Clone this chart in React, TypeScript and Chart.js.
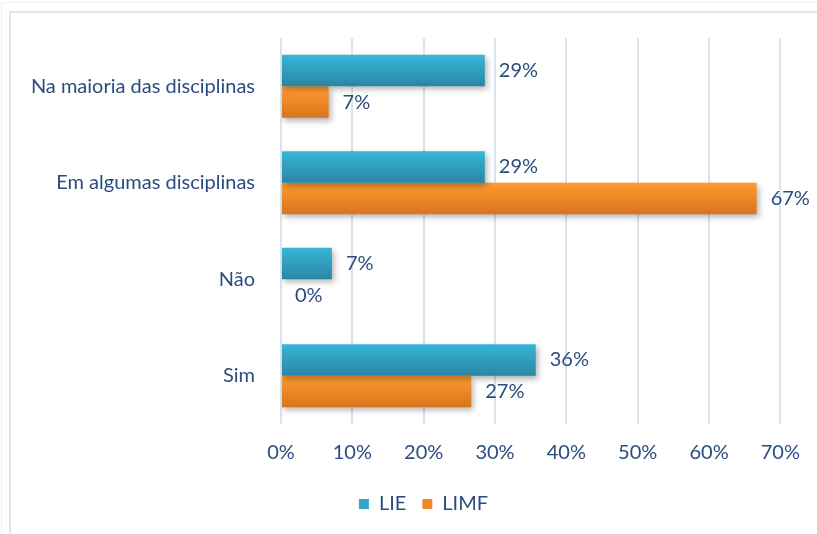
import React, { useEffect, useRef } from "react";
import { Chart, registerables } from "chart.js";

Chart.register(...registerables);

const categories = ["Na maioria das disciplinas", "Em algumas disciplinas", "Não", "Sim"];
const lieValues = [28.57, 28.57, 7.14, 35.71];
const limfValues = [6.67, 66.67, 0, 26.67];
const seriesNames = ["LIE", "LIMF"];
const tickMax = 70;
const tickStep = 10;

const TEXT = "#2B4C7E";
const FONT = "Lato, 'Open Sans', sans-serif";
const FS = 20;
const gradStops: [string, string][] = [
  ["#38B6D9", "#2A86A3"],
  ["#FF9B31", "#D8741E"],
];

const legendShiftPlugin = {
  id: "legendShift",
  afterLayout(chart: any) {
    if (chart.legend) {
      chart.legend.left += 33;
      chart.legend.right += 33;
    }
  },
};

const gradientPlugin = {
  id: "barGradient",
  beforeDatasetsDraw(chart: any) {
    const ctx = chart.ctx;
    chart.data.datasets.forEach((_: any, di: number) => {
      const meta = chart.getDatasetMeta(di);
      meta.data.forEach((el: any) => {
        const top = el.y - el.height / 2;
        const g = ctx.createLinearGradient(0, top, 0, top + el.height);
        g.addColorStop(0, gradStops[di][0]);
        g.addColorStop(1, gradStops[di][1]);
        el.options = { ...el.options, backgroundColor: g };
      });
    });
    ctx.save();
    ctx.shadowColor = "rgba(0,0,0,0.3)";
    ctx.shadowBlur = 6;
    ctx.shadowOffsetX = 2;
    ctx.shadowOffsetY = 3;
  },
  afterDatasetsDraw(chart: any) {
    const ctx = chart.ctx;
    ctx.restore();
    ctx.save();
    ctx.font = `${FS}px ${FONT}`;
    ctx.fillStyle = TEXT;
    ctx.textAlign = "left";
    ctx.textBaseline = "middle";
    chart.data.datasets.forEach((ds: any, di: number) => {
      const meta = chart.getDatasetMeta(di);
      meta.data.forEach((el: any, i: number) => {
        const v = ds.data[i];
        ctx.fillText(Math.round(v) + "%", el.x + 14, el.y);
      });
    });
    ctx.restore();
  },
};

export default function App() {
  const ref = useRef<HTMLCanvasElement | null>(null);
  useEffect(() => {
    if (!ref.current) return;
    const chart = new Chart(ref.current, {
      type: "bar",
      data: {
        labels: categories,
        datasets: [
          { label: seriesNames[0], data: lieValues, backgroundColor: "#31A6C7", borderWidth: 0 },
          { label: seriesNames[1], data: limfValues, backgroundColor: "#F08A28", borderWidth: 0 },
        ],
      },
      options: {
        indexAxis: "y",
        animation: false,
        responsive: false,
        maintainAspectRatio: false,
        layout: { padding: { left: 0, right: 36, top: 38, bottom: 10 } },
        datasets: { bar: { categoryPercentage: 0.655, barPercentage: 1 } },
        scales: {
          y: {
            type: "category",
            grid: { display: false },
            border: { display: false },
            ticks: { color: TEXT, font: { family: FONT, size: FS }, padding: 18 },
            afterFit: (s: any) => { s.width = 281; },
          },
          x: {
            min: 0,
            max: tickMax,
            grid: { color: "#DAE4F1", lineWidth: 2, drawTicks: false },
            border: { display: false },
            ticks: {
              stepSize: tickStep,
              color: TEXT,
              font: { family: FONT, size: FS },
              padding: 17,
              callback: (v: any) => v + "%",
            },
            afterFit: (s: any) => { s.height = 54; },
          },
        },
        plugins: {
          legend: {
            position: "bottom",
            labels: {
              boxWidth: 10,
              boxHeight: 10,
              padding: 16,
              color: TEXT,
              font: { family: FONT, size: FS },
            },
          },
          tooltip: { enabled: false },
        },
      },
      plugins: [legendShiftPlugin, gradientPlugin],
    });
    return () => chart.destroy();
  }, []);
  return (
    <div style={{ position: "fixed", left: 0, top: 0, width: 817, height: 534, background: "#fff", overflow: "hidden" }}>
      <div style={{ position: "absolute", left: 1, top: 2, width: 900, height: 600, border: "1px solid #F0F0F0" }} />
      <div style={{ position: "absolute", left: 9, top: 11, width: 900, height: 600, borderLeft: "2px solid #DCE6F4", borderTop: "2px solid #DCE6F4" }} />
      <canvas ref={ref} width={817} height={534} style={{ position: "absolute", left: 0, top: 0, width: 817, height: 534 }} />
    </div>
  );
}
